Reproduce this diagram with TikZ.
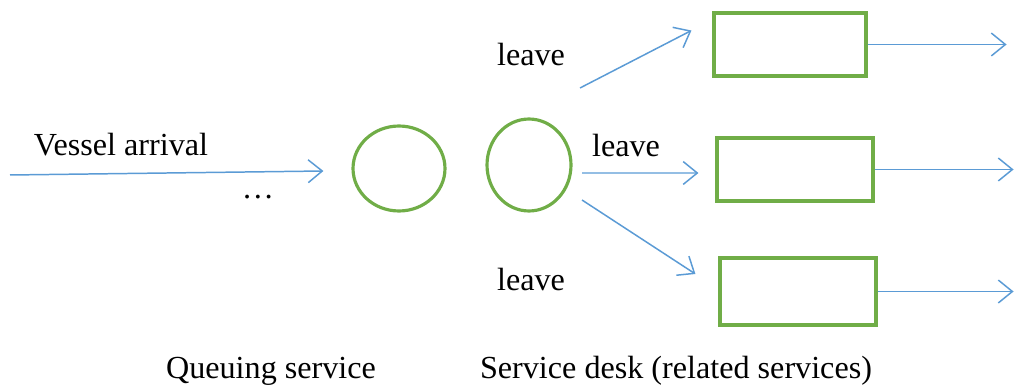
\documentclass[tikz,border=0pt]{standalone}
\usepackage{fontspec}
\setmainfont{Liberation Serif}
\usetikzlibrary{shapes.geometric, arrows.meta, calc}

\definecolor{flowblue}{RGB}{91,155,213}
\definecolor{deskgreen}{RGB}{112,173,71}

\tikzset{
    flow/.style = {draw=flowblue, line width=0.85pt, -{Straight Barb[length=8pt, width=13pt, line width=0.85pt]}},
    stage/.style = {ellipse, draw=deskgreen, line width=1.8pt, inner sep=0pt},
    desk/.style = {rectangle, draw=deskgreen, line width=1.8pt, inner sep=0pt, minimum width=3.1cm},
    lbl/.style = {font=\fontsize{18.3}{22}\selectfont, inner sep=0pt}
}

\begin{document}
\begin{tikzpicture}[x=0.02cm, y=-0.02cm]
    \useasboundingbox (0, 0) rectangle (1014, 388);

    % queue and service desk
    \node[stage, minimum width=1.84cm, minimum height=1.7cm] (q) at (399, 168.5) {};
    \node[stage, minimum width=1.68cm, minimum height=1.84cm] (d) at (529, 165) {};

    \node[desk, minimum width=3.04cm, minimum height=1.26cm] (b1) at (790, 44.5) {};
    \node[desk, minimum width=3.12cm, minimum height=1.26cm] (b2) at (795, 169.5) {};
    \node[desk, minimum width=3.12cm, minimum height=1.34cm] (b3) at (798, 291.5) {};

    % arrivals
    \coordinate (src) at (10, 175);
    \draw[flow] (src) -- ($(q.west) + (-28, 2.5)$);
    \node[lbl] (arr) at (121, 145) {Vessel arrival};
    \node[lbl] (dots) at (258, 197) {\dots};

    % leaving the desk
    \draw[flow] ($(d) + (51, -77)$) -- ($(b1.west) + (-21, -14)$);
    \draw[flow] ($(d) + (53, 8)$) -- ($(b2.west) + (-17, 3.5)$);
    \draw[flow] ($(d) + (53, 35)$) -- ($(b3.west) + (-23, -17.5)$);
    \node[lbl] (l1) at (531, 55) {leave};
    \node[lbl] (l2) at (626, 146) {leave};
    \node[lbl] (l3) at (531, 280) {leave};

    \draw[flow] (b1.east) -- ++(139, 0);
    \draw[flow] (b2.east) -- ++(139, 0);
    \draw[flow] (b3.east) -- ++(136, 0);

    \node[lbl] (qs) at (271, 371) {Queuing service};
    \node[lbl] (sd) at (676, 371) {Service desk (related services)};
\end{tikzpicture}
\end{document}
